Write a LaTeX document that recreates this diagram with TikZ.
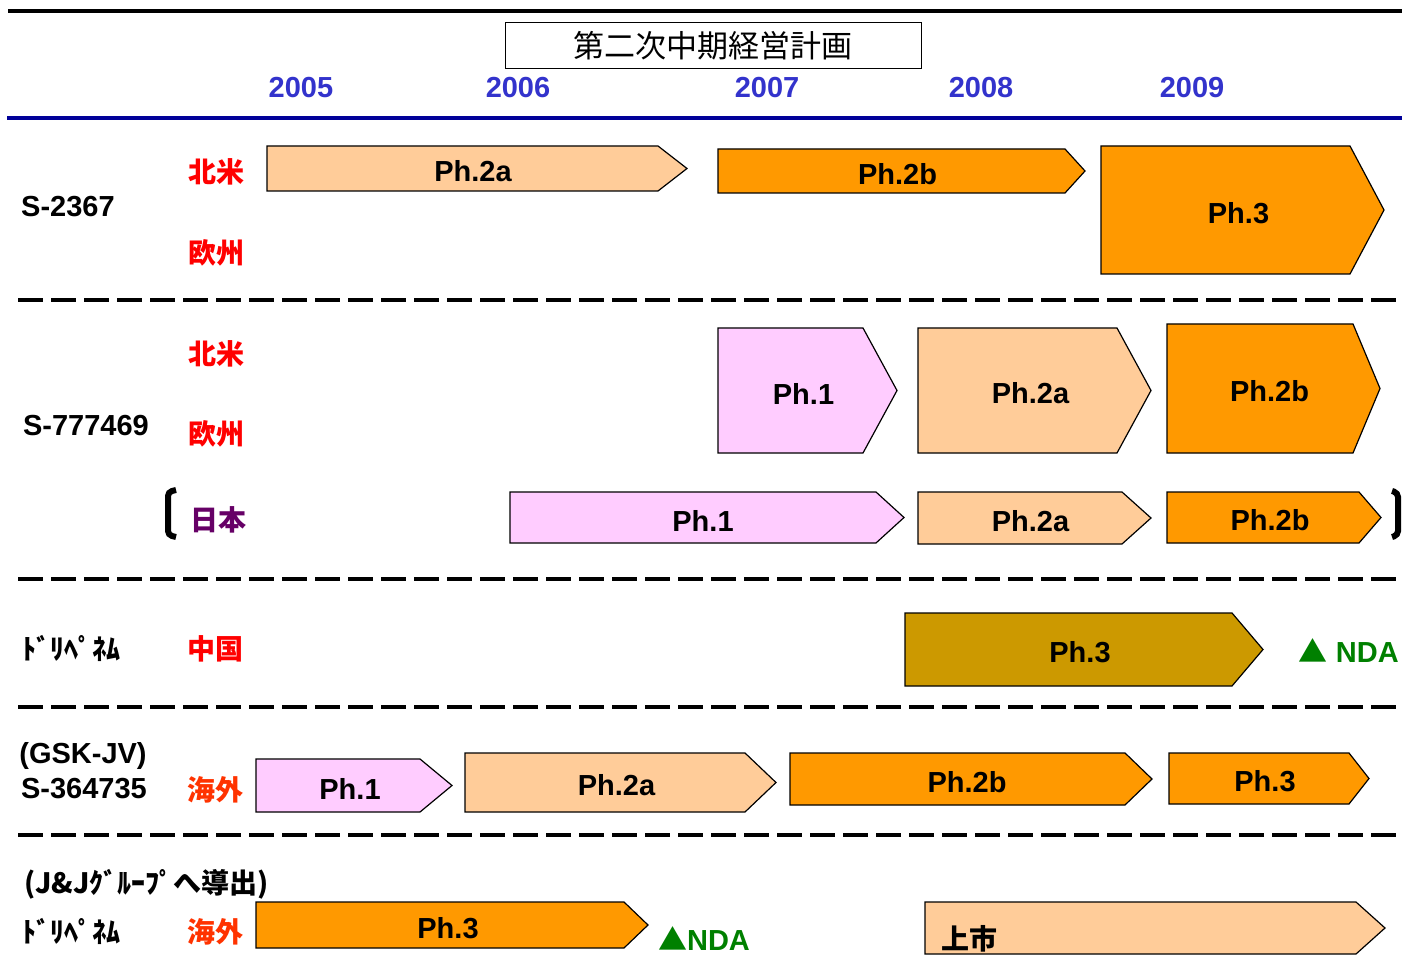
\documentclass[tikz,border=0pt]{standalone}
\usepackage{fontspec}
\setmainfont{Liberation Sans}
\newfontfamily\jp{Noto Sans CJK JP}
\definecolor{peach}{HTML}{FFCC99}
\definecolor{amber}{HTML}{FF9900}
\definecolor{lilac}{HTML}{FFCCFF}
\definecolor{mustard}{HTML}{CC9900}
\definecolor{yearblue}{HTML}{3333CC}
\definecolor{navyline}{HTML}{000099}
\definecolor{ndagreen}{HTML}{008000}
\definecolor{jpurple}{HTML}{660066}
\definecolor{abroad}{HTML}{FF3300}
\newcommand{\phasebar}[8]{%
  \draw[phase, fill=#2] (#3,#6) -- (#4,#6) -- (#5,{(#6+#7)/2}) -- (#4,#7) -- (#3,#7) -- cycle;
  \node[phaselabel] (#1) at ({(#3+#5)/2-4},{(#6+#7)/2+3}) {#8};}
\begin{document}
\begin{tikzpicture}[x=1pt, y=-1pt,
				phase/.style={draw=black, line width=1.2pt, line join=miter},
				phaselabel/.style={font=\fontsize{29}{29}\selectfont\bfseries, inner sep=0pt},
				yearlbl/.style={font=\fontsize{29}{29}\selectfont\bfseries, text=yearblue, inner sep=0pt},
				druglbl/.style={font=\fontsize{29}{29}\selectfont\bfseries, inner sep=0pt},
				katalbl/.style={font=\jp\bfseries\fontsize{28}{28}\selectfont, inner sep=0pt},
				regionlbl/.style={font=\jp\bfseries\fontsize{28}{28}\selectfont, inner sep=0pt},
				sepline/.style={line width=4pt, dash pattern=on 25pt off 8pt},
				bracket/.style={line width=6pt, rounded corners=4pt}
			]
			\useasboundingbox (0,0) rectangle (1402,957);
			\draw[line width=4pt] (8,11) -- (1402,11);
			\node[draw, line width=1pt, minimum width=416pt, minimum height=46pt, inner sep=0pt,
				font=\jp\fontsize{31}{31}\selectfont] (plan) at (713,46) {第二次中期経営計画};
			\foreach \yr/\xx in {2005/301, 2006/518, 2007/767, 2008/981, 2009/1192}
				\node[yearlbl] (y\yr) at (\xx,88) {\yr};
			\draw[navyline, line width=4pt] (7,118) -- (1402,118);

			\node[druglbl] (s2367) at (68,207) {S-2367};
			\node[regionlbl, text=red] (na1) at (216,172) {北米};
			\node[regionlbl, text=red] (eu1) at (216,253) {欧州};
			\phasebar{r1a}{peach}{267}{658}{687}{146}{191}{Ph.2a}
			\phasebar{r1b}{amber}{718}{1065}{1085}{149}{193}{Ph.2b}
			\phasebar{r1c}{amber}{1101}{1350}{1384}{146}{274}{Ph.3}
			\draw[sepline] (18,300) -- (1402,300);

			\node[druglbl] (s777469) at (86,426) {S-777469};
			\node[regionlbl, text=red] (na2) at (216,354) {北米};
			\node[regionlbl, text=red] (eu2) at (216,434) {欧州};
			\node[regionlbl, text=jpurple] (jp2) at (218,520) {日本};
			\phasebar{r2a}{lilac}{718}{863}{897}{328}{453}{Ph.1}
			\phasebar{r2b}{peach}{918}{1117}{1151}{328}{453}{Ph.2a}
			\phasebar{r2c}{amber}{1167}{1353}{1380}{324}{453}{Ph.2b}
			\phasebar{r2d}{lilac}{510}{876}{904}{492}{543}{Ph.1}
			\phasebar{r2e}{peach}{918}{1122}{1151}{492}{544}{Ph.2a}
			\phasebar{r2f}{amber}{1167}{1359}{1381}{492}{543}{Ph.2b}
			\draw[bracket] (176,490) -- (168,492) -- (168,535) -- (176,537);
			\draw[bracket] (1392,491) -- (1398,493) -- (1398,535) -- (1392,537);
			\draw[sepline] (18,579) -- (1402,579);

			\node[katalbl] (dori3) at (71,648) {ﾄﾞﾘﾍﾟﾈﾑ};
			\node[regionlbl, text=red] (cn3) at (215,649) {中国};
			\phasebar{r3a}{mustard}{905}{1232}{1263}{613}{686}{Ph.3}
			\node[druglbl, text=ndagreen, anchor=east] (nda3) at (1399,651) {{\jp ▲} NDA};
			\draw[sepline] (18,707) -- (1402,707);

			\node[druglbl] (gskjv) at (83,756) {(GSK-JV)};
			\node[druglbl] (s364735) at (84,789) {S-364735};
			\node[regionlbl, text=abroad] (os4) at (215,790) {海外};
			\phasebar{r4a}{lilac}{256}{420}{452}{759}{812}{Ph.1}
			\phasebar{r4b}{peach}{465}{745}{776}{753}{812}{Ph.2a}
			\phasebar{r4c}{amber}{790}{1125}{1152}{753}{805}{Ph.2b}
			\phasebar{r4d}{amber}{1169}{1349}{1369}{753}{804}{Ph.3}
			\draw[sepline] (18,835) -- (1402,835);

			\node[katalbl] (jnj) at (147,884) {(J\&Jｸﾞﾙｰﾌﾟへ導出)};
			\node[katalbl] (dori5) at (71,931) {ﾄﾞﾘﾍﾟﾈﾑ};
			\node[regionlbl, text=abroad] (os5) at (215,932) {海外};
			\phasebar{r5a}{amber}{256}{624}{648}{902}{948}{Ph.3}
			\node[druglbl, text=ndagreen] (nda5) at (704,939) {{\jp ▲}NDA};
			\phasebar{r5b}{peach}{925}{1356}{1385}{902}{954}{}
			\node[regionlbl, anchor=west] (launch) at (941,939) {上市};
		\end{tikzpicture}
\end{document}
